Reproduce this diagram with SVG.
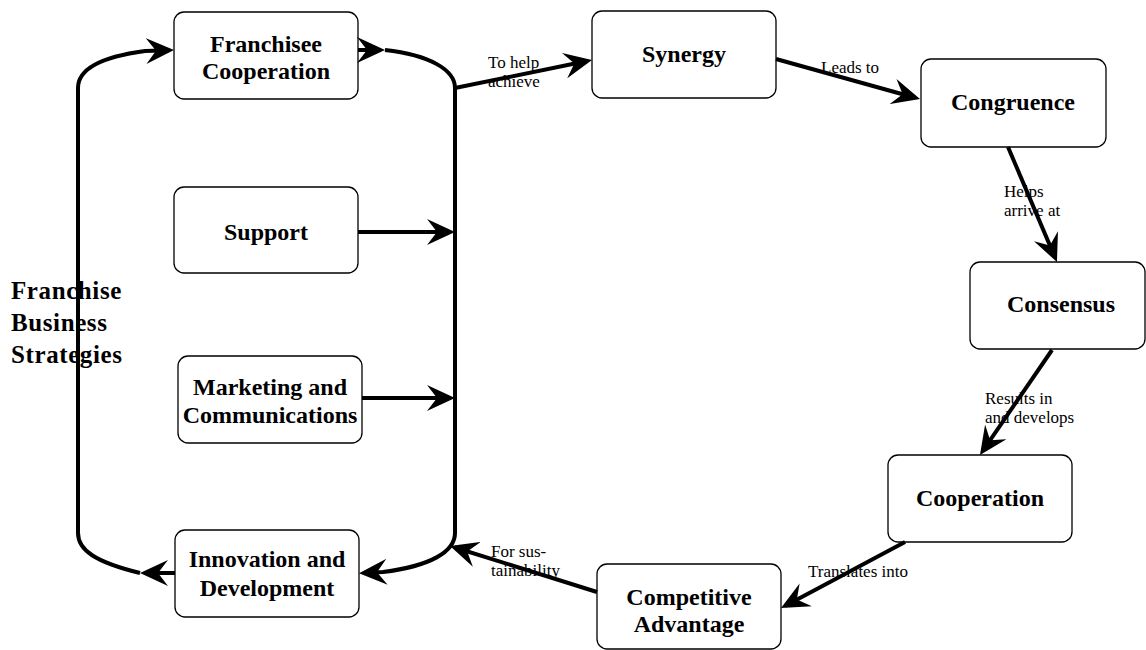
<svg xmlns="http://www.w3.org/2000/svg" width="1146" height="650" viewBox="0 0 1146 650">
<style>
.box{fill:#fff;stroke:#000;stroke-width:1.3}
.nl{font-family:"Liberation Serif","Times New Roman",serif;font-weight:bold;font-size:24px;text-anchor:middle;fill:#000}
.el{font-family:"Liberation Serif","Times New Roman",serif;font-size:17px;fill:#000}
.big{font-family:"Liberation Serif","Times New Roman",serif;font-weight:bold;font-size:25px;letter-spacing:0.6px;fill:#000}
.c{fill:none;stroke:#000;stroke-width:4;marker-end:url(#ah)}
</style>
<defs>
<marker id="ah" markerUnits="userSpaceOnUse" viewBox="0 0 28 26" refX="23" refY="13" markerWidth="28" markerHeight="26" orient="auto">
<path d="M0,0 L28,13 L0,26 L10,13 Z" fill="#000"/>
</marker>
</defs>
<rect width="1146" height="650" fill="#fff"/>

<g id="title">
<text class="big" x="11" y="299">Franchise</text>
<text class="big" x="11" y="331">Business</text>
<text class="big" x="11" y="363">Strategies</text>
</g>

<g id="n-franchisee">
<rect class="box" x="174" y="12" width="184" height="87" rx="10"/>
<text class="nl" x="266" y="52">Franchisee</text>
<text class="nl" x="266" y="79">Cooperation</text>
</g>
<g id="n-support">
<rect class="box" x="174" y="187" width="184" height="86" rx="10"/>
<text class="nl" x="266" y="240">Support</text>
</g>
<g id="n-marketing">
<rect class="box" x="178" y="356" width="184" height="87" rx="10"/>
<text class="nl" x="270" y="395">Marketing and</text>
<text class="nl" x="270" y="423">Communications</text>
</g>
<g id="n-innovation">
<rect class="box" x="175" y="530" width="184" height="87" rx="10"/>
<text class="nl" x="267" y="567">Innovation and</text>
<text class="nl" x="267" y="596">Development</text>
</g>
<g id="n-synergy">
<rect class="box" x="592" y="11" width="184" height="87" rx="10"/>
<text class="nl" x="684" y="62">Synergy</text>
</g>
<g id="n-congruence">
<rect class="box" x="921" y="59" width="185" height="88" rx="10"/>
<text class="nl" x="1013" y="110">Congruence</text>
</g>
<g id="n-consensus">
<rect class="box" x="970" y="262" width="175" height="87" rx="10"/>
<text class="nl" x="1061" y="312">Consensus</text>
</g>
<g id="n-cooperation">
<rect class="box" x="888" y="455" width="184" height="87" rx="10"/>
<text class="nl" x="980" y="506">Cooperation</text>
</g>
<g id="n-competitive">
<rect class="box" x="597" y="564" width="184" height="85" rx="10"/>
<text class="nl" x="689" y="605">Competitive</text>
<text class="nl" x="689" y="632">Advantage</text>
</g>

<g id="edge-labels">
<text class="el" x="488" y="68">To help</text>
<text class="el" x="488" y="87">achieve</text>
<text class="el" x="821" y="73">Leads to</text>
<text class="el" x="1004" y="197">Helps</text>
<text class="el" x="1004" y="216">arrive at</text>
<text class="el" x="985" y="404">Results in</text>
<text class="el" x="985" y="423">and develops</text>
<text class="el" x="808" y="577">Translates into</text>
<text class="el" x="491" y="557">For sus-</text>
<text class="el" x="491" y="576">tainability</text>
</g>

<g id="connectors">
<path class="c" d="M140,573 C95,562 78,550 78,533 L78,88 C78,70 100,57 145,51 L169,50.2"/>
<path class="c" d="M175,573 L145,573"/>
<path class="c" d="M358,50 L380,50"/>
<path class="c" d="M385,50 C430,55 455,70 455,88 L455,533 C455,552 430,566 383,572 L364,573"/>
<path class="c" d="M358,232 L450,232"/>
<path class="c" d="M362,398 L450,398"/>
<path class="c" d="M455,88 L587.1,61"/>
<path class="c" d="M776,59 L915.2,97.7"/>
<path class="c" d="M1008,147 L1055,257.4"/>
<path class="c" d="M1052,350 L982.8,450.9"/>
<path class="c" d="M905,542 L785.4,605.7"/>
<path class="c" d="M597,592 L454.8,547.5"/>
</g>
</svg>
